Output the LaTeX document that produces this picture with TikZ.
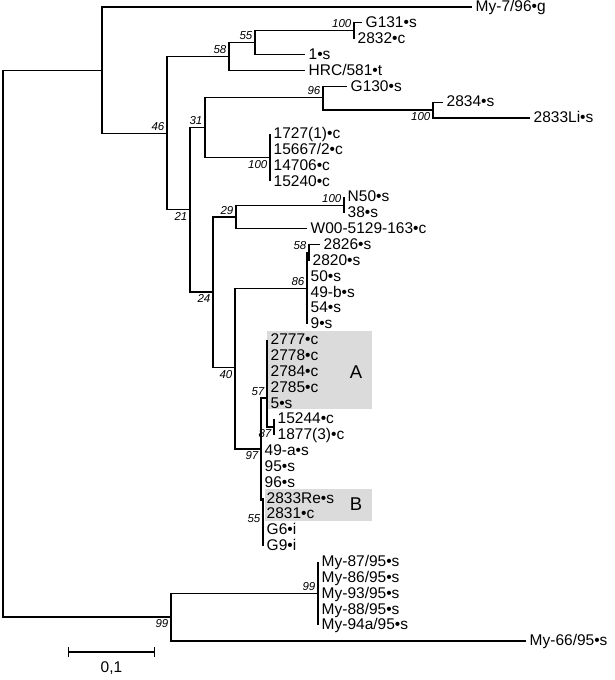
\documentclass[tikz,border=0pt]{standalone}
\usepackage{fontspec}
\setmainfont{Liberation Sans}
\usetikzlibrary{arrows.meta}

\begin{document}
\begin{tikzpicture}[
    x=1pt, y=-1pt,
    branch/.style={line width=1.1pt},
    leaf/.style={anchor=west, inner xsep=3.5pt, inner ysep=0pt,
                 text height=11.5pt, text depth=2pt,
                 font=\fontsize{15.5}{15.5}\selectfont},
    boot/.style={inner sep=2.5pt, font=\fontsize{11.5}{11.5}\selectfont\itshape},
    clade/.style={fill=black!14},
    cladename/.style={font=\fontsize{18.5}{18.5}\selectfont},
]
    \useasboundingbox (0,0) rectangle (614,680);

    % shaded clades
    \fill[clade] (267,331) rectangle (372,409);
    \fill[clade] (265,489) rectangle (372,521);
    \node[cladename] (cladeA) at (356,372) {A};
    \node[cladename] (cladeB) at (356,504) {B};

    % internal nodes
    \coordinate (root) at (3,343.5);
    \coordinate (top) at (102,70.1);
    \coordinate (n46) at (167,133.2);
    \coordinate (n58) at (229,56.7);
    \coordinate (n55) at (255,42.3);
    \coordinate (n100a) at (354,30.8);
    \coordinate (n21) at (190,209.7);
    \coordinate (n31) at (205,127.3);
    \coordinate (n96) at (323,97.6);
    \coordinate (n100b) at (433,110);
    \coordinate (n100c) at (270,157.6);
    \coordinate (n24) at (213,292);
    \coordinate (n29) at (236,217);
    \coordinate (n100d) at (344,205.1);
    \coordinate (n40) at (235,367.5);
    \coordinate (n86) at (307,288.3);
    \coordinate (n58b) at (309,252.7);
    \coordinate (n97) at (261,449);
    \coordinate (n57) at (267,398);
    \coordinate (n87) at (274,427);
    \coordinate (n55b) at (263,500);
    \coordinate (bot) at (171,617);
    \coordinate (n99) at (318,593.45);

    % leaves
    \node[leaf] (my7) at (472,7) {My-7/96•g};
    \node[leaf] (g131) at (362,22.85) {G131•s};
    \node[leaf] (c2832) at (354,38.7) {2832•c};
    \node[leaf] (s1) at (305,54.55) {1•s};
    \node[leaf] (hrc) at (305,70.4) {HRC/581•t};
    \node[leaf] (g130) at (347,86.25) {G130•s};
    \node[leaf] (s2834) at (443,102.1) {2834•s};
    \node[leaf] (li) at (530,117.95) {2833Li•s};
    \node[leaf] (c1727) at (270,133.8) {1727(1)•c};
    \node[leaf] (c15667) at (270,149.65) {15667/2•c};
    \node[leaf] (c14706) at (270,165.5) {14706•c};
    \node[leaf] (c15240) at (270,181.35) {15240•c};
    \node[leaf] (n50) at (344,197.2) {N50•s};
    \node[leaf] (s38) at (344,213.05) {38•s};
    \node[leaf] (w00) at (307,228.9) {W00-5129-163•c};
    \node[leaf] (s2826) at (320,244.75) {2826•s};
    \node[leaf] (s2820) at (309,260.6) {2820•s};
    \node[leaf] (s50) at (307,276.45) {50•s};
    \node[leaf] (s49b) at (307,292.3) {49-b•s};
    \node[leaf] (s54) at (307,308.15) {54•s};
    \node[leaf] (s9) at (307,324) {9•s};
    \node[leaf] (c2777) at (267,339.85) {2777•c};
    \node[leaf] (c2778) at (267,355.7) {2778•c};
    \node[leaf] (c2784) at (267,371.55) {2784•c};
    \node[leaf] (c2785) at (267,387.4) {2785•c};
    \node[leaf] (s5) at (267,403.25) {5•s};
    \node[leaf] (c15244) at (274,419.1) {15244•c};
    \node[leaf] (c1877) at (274,434.95) {1877(3)•c};
    \node[leaf] (s49a) at (261,450.8) {49-a•s};
    \node[leaf] (s95) at (261,466.65) {95•s};
    \node[leaf] (s96) at (261,482.5) {96•s};
    \node[leaf] (re) at (263,498.35) {2833Re•s};
    \node[leaf] (c2831) at (263,514.2) {2831•c};
    \node[leaf] (g6) at (263,530.05) {G6•i};
    \node[leaf] (g9) at (263,545.9) {G9•i};
    \node[leaf] (my87) at (318,561.75) {My-87/95•s};
    \node[leaf] (my86) at (318,577.6) {My-86/95•s};
    \node[leaf] (my93) at (318,593.45) {My-93/95•s};
    \node[leaf] (my88) at (318,609.3) {My-88/95•s};
    \node[leaf] (my94a) at (318,625.15) {My-94a/95•s};
    \node[leaf] (my66) at (526,641) {My-66/95•s};

    % branches
    \draw[branch] (root) |- (top);
    \draw[branch] (root) |- (bot);
    \draw[branch] (top) |- (my7.west);
    \draw[branch] (top) |- (n46);
    \draw[branch] (n46) |- (n58);
    \draw[branch] (n46) |- (n21);
    \draw[branch] (n58) |- (n55);
    \draw[branch] (n58) |- (hrc.west);
    \draw[branch] (n55) |- (n100a);
    \draw[branch] (n55) |- (s1.west);
    \draw[branch] (n100a) |- (g131.west);
    \draw[branch] (n100a) |- (c2832.west);
    \draw[branch] (n21) |- (n31);
    \draw[branch] (n21) |- (n24);
    \draw[branch] (n31) |- (n96);
    \draw[branch] (n31) |- (n100c);
    \draw[branch] (n96) |- (g130.west);
    \draw[branch] (n96) |- (n100b);
    \draw[branch] (n100b) |- (s2834.west);
    \draw[branch] (n100b) |- (li.west);
    \draw[branch] (n100c) |- (c1727.west);
    \draw[branch] (n100c) |- (c15240.west);
    \draw[branch] (n24) |- (n29);
    \draw[branch] (n24) |- (n40);
    \draw[branch] (n29) |- (n100d);
    \draw[branch] (n29) |- (w00.west);
    \draw[branch] (n100d) |- (n50.west);
    \draw[branch] (n100d) |- (s38.west);
    \draw[branch] (n40) |- (n86);
    \draw[branch] (n40) |- (n97);
    \draw[branch] (n86) |- (n58b);
    \draw[branch] (n86) |- (s9.west);
    \draw[branch] (n58b) |- (s2826.west);
    \draw[branch] (n58b) |- (s2820.west);
    \draw[branch] (n97) |- (n57);
    \draw[branch] (n97) |- (n55b);
    \draw[branch] (n57) |- (c2777.west);
    \draw[branch] (n57) |- (n87);
    \draw[branch] (n87) |- (c15244.west);
    \draw[branch] (n87) |- (c1877.west);
    \draw[branch] (n55b) |- (re.west);
    \draw[branch] (n55b) |- (g9.west);
    \draw[branch] (bot) |- (n99);
    \draw[branch] (bot) |- (my66.west);
    \draw[branch] (n99) |- (my87.west);
    \draw[branch] (n99) |- (my94a.west);

    % bootstrap values
    \node[boot, above left] (b46) at (n46) {46};
    \node[boot, above left] (b58) at (n58) {58};
    \node[boot, above left] (b55) at (n55) {55};
    \node[boot, above left] (b100a) at (n100a) {100};
    \node[boot, above left] (b96) at (n96) {96};
    \node[boot, below left] (b100b) at (n100b) {100};
    \node[boot, above left] (b31) at (n31) {31};
    \node[boot, below left] (b100c) at (n100c) {100};
    \node[boot, below left] (b21) at (n21) {21};
    \node[boot, above left] (b29) at (n29) {29};
    \node[boot, above left] (b100d) at (n100d) {100};
    \node[boot, below left] (b24) at (n24) {24};
    \node[boot, above left] (b86) at (n86) {86};
    \node[boot, above left] (b58b) at (n58b) {58};
    \node[boot, below left] (b40) at (n40) {40};
    \node[boot, above left] (b57) at (n57) {57};
    \node[boot, below left] (b87) at (n87) {87};
    \node[boot, below left] (b97) at (n97) {97};
    \node[boot, left] (b55b) at (263,519) {55};
    \node[boot, above left] (b99a) at (n99) {99};
    \node[boot, below left] (b99b) at (bot) {99};

    % scale bar
    \coordinate (sb0) at (68,652);
    \coordinate (sb1) at (155,652);
    \draw[branch, {Bar[width=10pt]}-{Bar[width=10pt]}] (sb0) -- (sb1);
    \node[leaf, anchor=north] (sblabel) at (111.5,661) {0,1};
\end{tikzpicture}
\end{document}
